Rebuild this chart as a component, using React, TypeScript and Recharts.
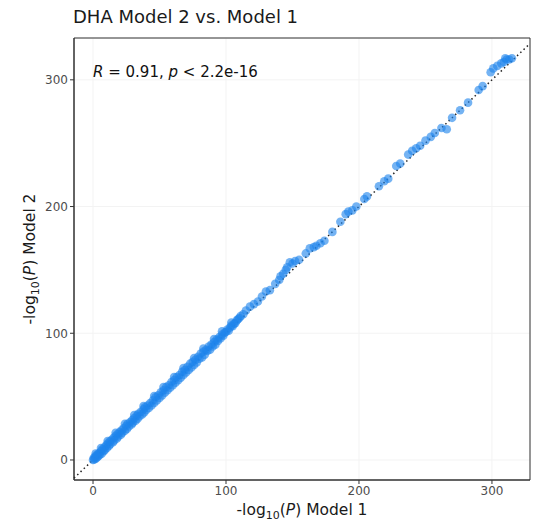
import React from 'react';
import {
  CartesianGrid,
  ReferenceArea,
  ReferenceDot,
  ReferenceLine,
  Scatter,
  ScatterChart,
  XAxis,
  YAxis,
} from 'recharts';

// -log10(P) under Model 1 (x) vs Model 2 (y)
const model1 = [
  0, 0.5, 1, 1.5, 2, 2.5, 3, 3.5, 4, 4.5, 5, 6, 6.5, 7, 8, 8.5, 9, 10, 10.5, 11,
  12, 12.5, 13, 14, 15, 15.5, 16, 17, 18, 18.5, 19, 20, 21, 21.5, 22, 23, 24, 25,
  25.5, 26, 27, 28, 29, 29.5, 30, 31, 32, 33, 33.5, 34, 35, 36, 37, 38, 38.5, 39,
  40, 41, 42, 43, 44, 45, 46, 47, 48, 49, 50, 51, 52, 53, 54, 55, 56, 57, 58, 59,
  60, 61, 62, 63, 64, 65, 66, 67, 68, 69, 70, 71, 72, 73, 74, 75, 76, 77, 78, 79,
  80, 81, 82, 83, 84, 85, 86, 87, 88, 89, 90, 91, 92, 93, 94, 95, 96, 97, 98, 99,
  100, 101, 102, 103, 104, 105, 106, 107, 108, 109, 110, 111, 113, 115, 118, 121,
  124, 127, 130, 133, 137, 140, 141, 143, 145, 146, 148, 150, 152, 155, 160, 163,
  166, 168, 171, 174, 180, 186, 190, 192, 195, 198, 204, 206, 215, 219, 222, 228,
  231, 237, 240, 243, 246, 250, 254, 257, 262, 266, 270, 276, 282, 290, 293, 299,
  301, 304, 307, 309, 311, 313, 315, 310,
  // extra spread in the dense band
  2, 6, 11, 17, 24, 31, 38, 46, 53, 61, 68, 76, 83, 91, 97, 104,
];
const model2 = [
  0, 1.5, 0.5, 2.5, 1, 3.5, 2, 4.5, 3, 5.5, 4, 7, 5, 8.5, 7, 10, 8, 11.5, 9.5, 13,
  11, 14.5, 12.5, 16, 14, 17.5, 15.5, 19, 17, 20.5, 18.5, 22, 20, 23.5, 21.5, 25, 23, 27,
  24.5, 28.5, 26.5, 30, 28, 31.5, 29.5, 33, 31, 35, 32.5, 36.5, 34.5, 38, 36, 40, 37.5, 41.5,
  39.5, 43, 41, 45, 43, 47, 45, 49.5, 47, 51, 49, 53.5, 51, 55, 53, 57.5, 55, 59, 57, 61.5,
  59, 63, 61, 65.5, 63, 67, 65, 69.5, 67, 71, 69, 73.5, 71, 76, 73, 77.5, 75, 79, 77, 81.5,
  80, 84, 81, 85.5, 83, 87, 86, 89.5, 87, 91, 89.5, 93, 91, 95, 94, 97, 96, 99, 98, 100.5,
  101, 103, 102, 104.5, 106, 105.5, 107.5, 108, 110, 111, 112, 113.5, 115, 118, 121, 123,
  125, 129, 133, 134, 139, 142, 145, 147, 150, 152, 156, 155, 157, 158, 163, 167,
  168, 169, 171, 173, 180, 188, 194, 196, 197, 200, 206, 208, 216, 220, 222, 232,
  234, 241, 244, 246, 248, 252, 255, 258, 262, 261, 270, 276, 282, 292, 295, 306,
  309, 311, 313, 314, 316, 316, 317, 317,
  5, 9.5, 15, 21.5, 28.5, 35.5, 42.5, 50.5, 57.5, 65.5, 72.5, 80.5, 88, 95.5, 101.5, 108.5,
];
const xTicks = [0, 100, 200, 300];
const yTicks = [0, 100, 200, 300];
const xDomain = [-14.3, 328.6];
const yDomain = [-15.8, 333];

const points = model1.map((x, i) => ({ x, y: model2[i] }));

const FONT = '"DejaVu Sans", sans-serif';

function XTitle(props: any) {
  const { viewBox } = props;
  const cx = viewBox.x + viewBox.width / 2;
  return (
    <text x={cx} y={viewBox.y + 35} textAnchor="middle" fontSize={15.5} fill="#1a1a1a" fontFamily={FONT}>
      -log
      <tspan fontSize={11} dy={4}>10</tspan>
      <tspan dy={-4}>(</tspan>
      <tspan fontStyle="italic">P</tspan>
      <tspan>) Model 1</tspan>
    </text>
  );
}

function YTitle(props: any) {
  const { viewBox } = props;
  const cy = viewBox.y + viewBox.height / 2;
  const x = 35;
  return (
    <text
      x={x}
      y={cy}
      textAnchor="middle"
      fontSize={15.5}
      fill="#1a1a1a"
      fontFamily={FONT}
      transform={`rotate(-90, ${x}, ${cy})`}
    >
      -log
      <tspan fontSize={11} dy={4}>10</tspan>
      <tspan dy={-4}>(</tspan>
      <tspan fontStyle="italic">P</tspan>
      <tspan>) Model 2</tspan>
    </text>
  );
}

function StatLabel(props: any) {
  const { viewBox } = props;
  const x = viewBox.x + (viewBox.width || 0) / 2;
  const y = viewBox.y + (viewBox.height || 0) / 2;
  return (
    <text x={x} y={y + 5} fontSize={15} fill="#111" fontFamily={FONT}>
      <tspan fontStyle="italic">R</tspan>
      <tspan> = 0.91, </tspan>
      <tspan fontStyle="italic">p</tspan>
      <tspan> &lt; 2.2e-16</tspan>
    </text>
  );
}

const dot = (p: any) => (
  <circle cx={p.cx} cy={p.cy} r={4.3} fill="#1e84ec" fillOpacity={0.62} />
);

export default function App() {
  return (
    <div style={{ position: 'absolute', left: 0, top: 0, width: 536, height: 522, background: '#fff' }}>
      <div
        style={{
          position: 'absolute',
          left: 73,
          top: 6,
          fontFamily: FONT,
          fontSize: 18,
          color: '#1a1a1a',
          lineHeight: '22px',
        }}
      >
        DHA Model 2 vs. Model 1
      </div>
      <ScatterChart width={536} height={522} margin={{ top: 38, right: 6, bottom: 0, left: 0 }}>
        <CartesianGrid stroke="#f3f3f3" strokeWidth={1} />
        <XAxis
          type="number"
          dataKey="x"
          domain={xDomain}
          ticks={xTicks}
          allowDataOverflow
          height={42}
          tickSize={4}
          tickMargin={2}
          axisLine={{ stroke: '#333' }}
          tickLine={{ stroke: '#333' }}
          tick={{ fill: '#4d4d4d', fontSize: 12, fontFamily: FONT }}
          label={<XTitle />}
        />
        <YAxis
          type="number"
          dataKey="y"
          domain={yDomain}
          ticks={yTicks}
          allowDataOverflow
          width={74}
          tickSize={4}
          tickMargin={2}
          axisLine={{ stroke: '#333' }}
          tickLine={{ stroke: '#333' }}
          tick={{ fill: '#4d4d4d', fontSize: 12, fontFamily: FONT }}
          label={<YTitle />}
        />
        <ReferenceArea
          x1={xDomain[0]}
          x2={xDomain[1]}
          y1={yDomain[0]}
          y2={yDomain[1]}
          fill="none"
          stroke="#333"
          strokeWidth={1}
          ifOverflow="visible"
        />
        <Scatter data={points} shape={dot} isAnimationActive={false} />
        <ReferenceLine
          segment={[
            { x: -14.3, y: -14.3 },
            { x: 328.6, y: 328.6 },
          ]}
          stroke="#222"
          strokeWidth={1.5}
          strokeDasharray="1.5 3"
          ifOverflow="visible"
        />
        <ReferenceDot x={0} y={306} r={0} fill="none" stroke="none" label={<StatLabel />} ifOverflow="visible" />
      </ScatterChart>
    </div>
  );
}
